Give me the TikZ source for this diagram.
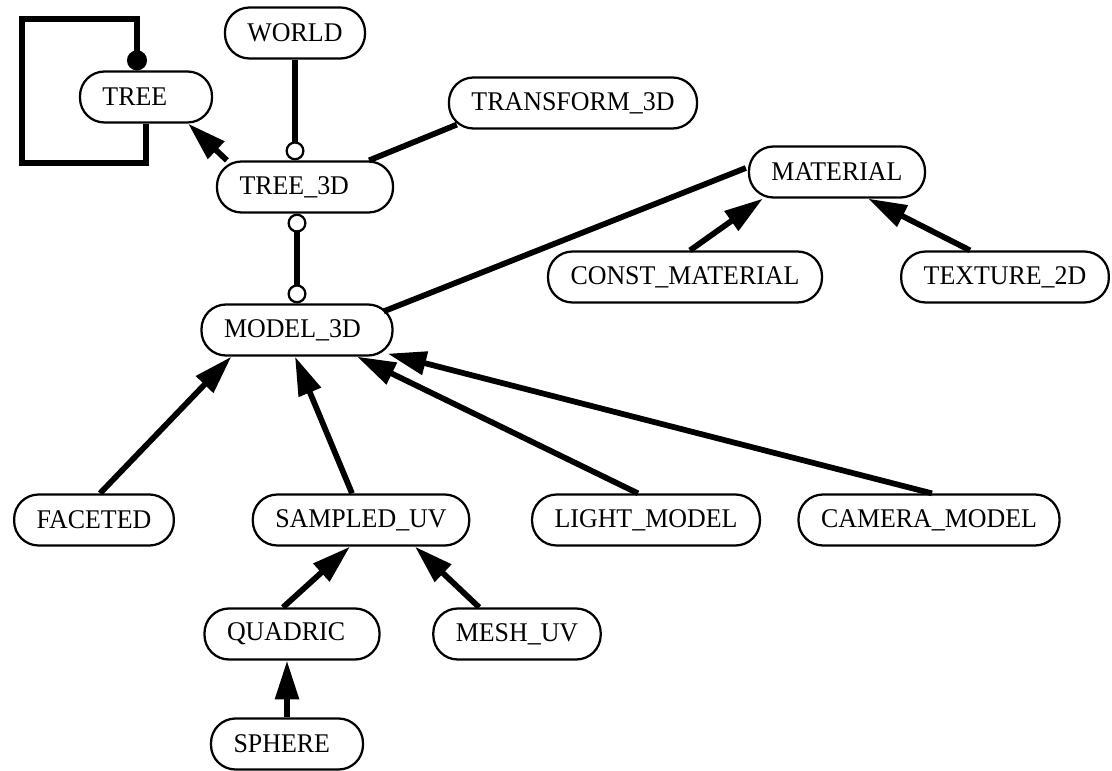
\documentclass[tikz,border=0pt]{standalone}
\usepackage{fontspec}
\setmainfont[FakeStretch=0.96]{Liberation Serif}
\usetikzlibrary{arrows.meta,calc}

\begin{document}
\begin{tikzpicture}[x=0.4pt,y=-0.4pt,
   every node/.style={draw,line width=0.9pt,rounded corners=9.8pt,minimum height=20.4pt,
      inner xsep=9pt,inner ysep=2pt,font=\fontsize{10.8}{13}\selectfont},
   wide/.style={text width=#1,align=left},
   link/.style={line width=2.3pt},
   inherit/.style={link,-{Triangle[length=15.5pt,width=9.2pt]}},
   client/.style={link,-{Circle[length=7.6pt,fill=white,line width=0.9pt]}},
   mutual/.style={link,{Circle[length=7.6pt,fill=white,line width=0.9pt]}-{Circle[length=7.6pt,fill=white,line width=0.9pt]}},
   selfloop/.style={link,-{Circle[length=8pt]}}]

\useasboundingbox (0,0) rectangle (1112,771);

\node[wide=34.8pt] (tree) at (146,97) {TREE};
\node (world) at (295,33) {WORLD};
\node[wide=52.4pt] (tree3d) at (305,187) {TREE\_3D};
\node (transform) at (573,103) {TRANSFORM\_3D};
\node (material) at (837,172) {MATERIAL};
\node (constmat) at (685,277) {CONST\_MATERIAL};
\node (texture) at (1005,277) {TEXTURE\_2D};
\node[wide=58.4pt] (model) at (297,330) {MODEL\_3D};
\node (faceted) at (94,520) {FACETED};
\node (sampled) at (361,520) {SAMPLED\_UV};
\node (light) at (646,520) {LIGHT\_MODEL};
\node (camera) at (929,520) {CAMERA\_MODEL};
\node[wide=52pt] (quadric) at (292,634) {QUADRIC};
\node (mesh) at (517,634) {MESH\_UV};
\node[wide=42.8pt] (sphere) at (287,744) {SPHERE};

\coordinate (loopbl) at (22,163);
\coordinate (looptl) at (22,19);
\draw[selfloop] (tree.south) |- (loopbl) -- (looptl) -| ($(tree.north)+(-9,0)$);

\draw[inherit] ($(tree3d.north west)+(11,0)$) -- ($(tree.south east)+(-25,0)$);
\draw[client] (world.south) -- (world.south |- tree3d.north);
\draw[link] ($(tree3d.north east)+(-25,0)$) -- ($(transform.south west)+(9,-5)$);
\draw[mutual] (model.north |- tree3d.south) -- (model.north);
\draw[link] ($(model.north east)+(-10,8)$) -- ($(material.west)+(-2,-4)$);
\draw[inherit] ($(constmat.north)+(5,0)$) -- ($(material.south west)+(15,0)$);
\draw[inherit] ($(texture.north)+(-35,0)$) -- ($(material.south)+(31,0)$);
\draw[inherit] ($(faceted.north)+(6,0)$) -- ($(model.south west)+(31,0)$);
\draw[inherit] ($(sampled.north)+(-9,0)$) -- ($(model.south)+(-2,0)$);
\draw[inherit] ($(light.north)+(-8,0)$) -- ($(model.south)+(60,0)$);
\draw[inherit] ($(camera.north)+(3,0)$) -- ($(model.south east)+(-6,-3)$);
\draw[inherit] ($(quadric.north)+(-9,0)$) -- ($(sampled.south)+(-11,0)$);
\draw[inherit] ($(mesh.north west)+(47,0)$) -- ($(sampled.south)+(54,0)$);
\draw[inherit] (sphere.north) -- (sphere.north |- quadric.south);

\end{tikzpicture}
\end{document}
